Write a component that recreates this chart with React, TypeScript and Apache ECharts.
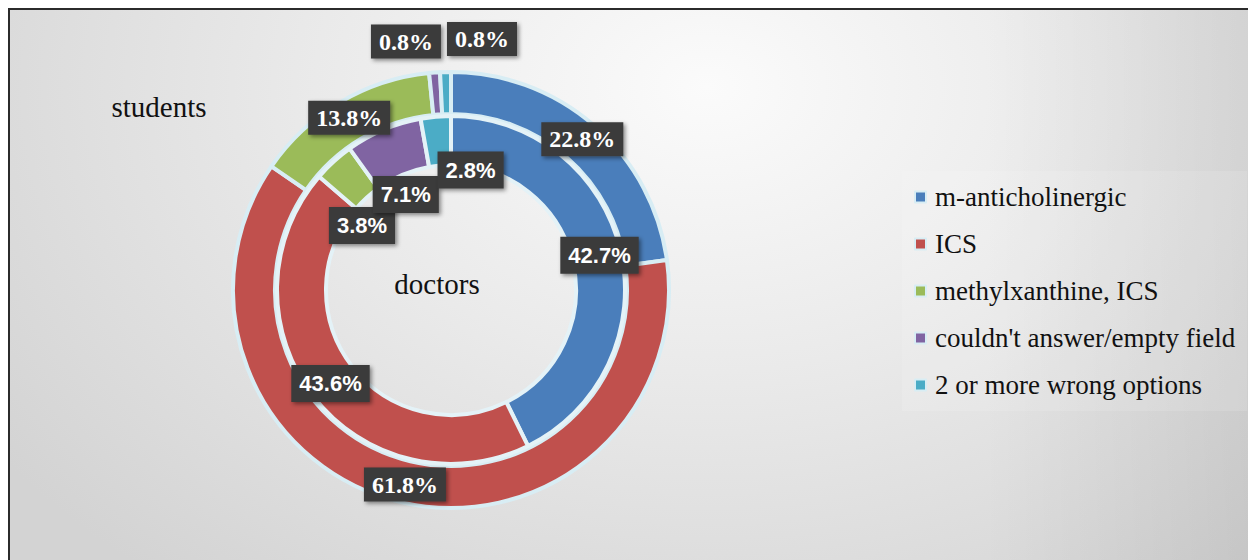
import React, { useEffect, useRef } from "react";
import * as echarts from "echarts";

const categories = [
  "m-anticholinergic",
  "ICS",
  "methylxanthine, ICS",
  "couldn't answer/empty field",
  "2 or more wrong options",
];
const studentsValues = [22.8, 61.8, 13.8, 0.8, 0.8];
const doctorsValues = [42.7, 43.6, 3.8, 7.1, 2.8];
const colors = ["#4a7ebb", "#c0504d", "#9bbb59", "#8064a2", "#4bacc6"];

// label nudges (px) away from the slice's centre
const studentsLabelShift = [[0, 0], [0, 0], [0, 0], [-30, -49], [36, -51]];
const doctorsLabelShift = [[0, 0], [0, 0], [14, 48], [14, 45], [33, 32]];

const SERIF = "'Liberation Serif', 'Times New Roman', Times, 'DejaVu Serif', serif";
const SANS = "'Liberation Sans', Arial, sans-serif";

export default function App() {
  const ref = useRef<HTMLDivElement>(null);
  useEffect(() => {
    document.body.style.overflow = "hidden";
    const chart = echarts.init(ref.current!, undefined, { renderer: "svg" });
    const cx = 441;
    const cy = 280;
    const labelBox = {
      show: true,
      position: "inside",
      formatter: "{c}%",
      color: "#ffffff",
      backgroundColor: "#3a3a3a",
      shadowColor: "rgba(0,0,0,0.45)",
      shadowBlur: 4,
      shadowOffsetX: 2,
      shadowOffsetY: 2,
    };
    chart.setOption({
      animation: false,
      color: colors,
      legend: {
        orient: "vertical",
        left: 892,
        top: 161,
        padding: [12, 12, 12, 12],
        backgroundColor: "rgba(255,255,255,0.12)",
        icon: "rect",
        itemWidth: 11,
        itemHeight: 11,
        itemGap: 19,
        selectedMode: false,
        data: categories,
        textStyle: {
          fontFamily: SERIF,
          fontSize: 27,
          lineHeight: 28,
          color: "#111",
          padding: [0, 0, 0, 4],
        },
      },
      graphic: [
        {
          type: "text",
          x: 149,
          y: 97,
          style: {
            text: "students",
            fontFamily: SERIF,
            fontSize: 29,
            fill: "#111",
            textAlign: "center",
            textVerticalAlign: "middle",
          },
        },
        {
          type: "text",
          x: 427,
          y: 274,
          style: {
            text: "doctors",
            fontFamily: SERIF,
            fontSize: 29,
            fill: "#111",
            textAlign: "center",
            textVerticalAlign: "middle",
          },
        },
      ],
      series: [
        {
          name: "students",
          type: "pie",
          center: [cx, cy],
          radius: [176, 218],
          startAngle: 90,
          clockwise: true,
          silent: true,
          itemStyle: { borderColor: "#d8edf4", borderWidth: 4 },
          label: {
            ...labelBox,
            fontFamily: SERIF,
            fontWeight: "bold",
            fontSize: 24,
            padding: [6, 8, 4, 8],
          },
          labelLine: { show: false },
          labelLayout: (p: any) => ({
            dx: studentsLabelShift[p.dataIndex][0],
            dy: studentsLabelShift[p.dataIndex][1],
          }),
          data: categories.map((n, i) => ({ name: n, value: studentsValues[i] })),
        },
        {
          name: "doctors",
          type: "pie",
          center: [cx, cy],
          radius: [125, 174],
          startAngle: 90,
          clockwise: true,
          silent: true,
          itemStyle: { borderColor: "#e4f2f7", borderWidth: 4 },
          label: {
            ...labelBox,
            fontFamily: SANS,
            fontWeight: "bold",
            fontSize: 22,
            padding: [8, 8, 7, 8],
          },
          labelLine: { show: false },
          labelLayout: (p: any) => ({
            dx: doctorsLabelShift[p.dataIndex][0],
            dy: doctorsLabelShift[p.dataIndex][1],
          }),
          data: categories.map((n, i) => ({ name: n, value: doctorsValues[i] })),
        },
      ],
    });
    return () => chart.dispose();
  }, []);
  return (
    <div
      style={{
        position: "relative",
        width: 1248,
        height: 552,
        boxSizing: "border-box",
        borderTop: "2px solid #2b2b2b",
        borderLeft: "2px solid #2b2b2b",
        background:
          "linear-gradient(to right, rgba(0,0,0,0) 78%, rgba(0,0,0,0.07) 100%), radial-gradient(ellipse 70% 115% at 56% 14%, #fbfbfb 0%, #eaeaea 45%, #d3d3d3 100%)",
      }}
    >
      <div ref={ref} style={{ position: "absolute", left: 0, top: 0, width: 1246, height: 550 }} />
    </div>
  );
}
